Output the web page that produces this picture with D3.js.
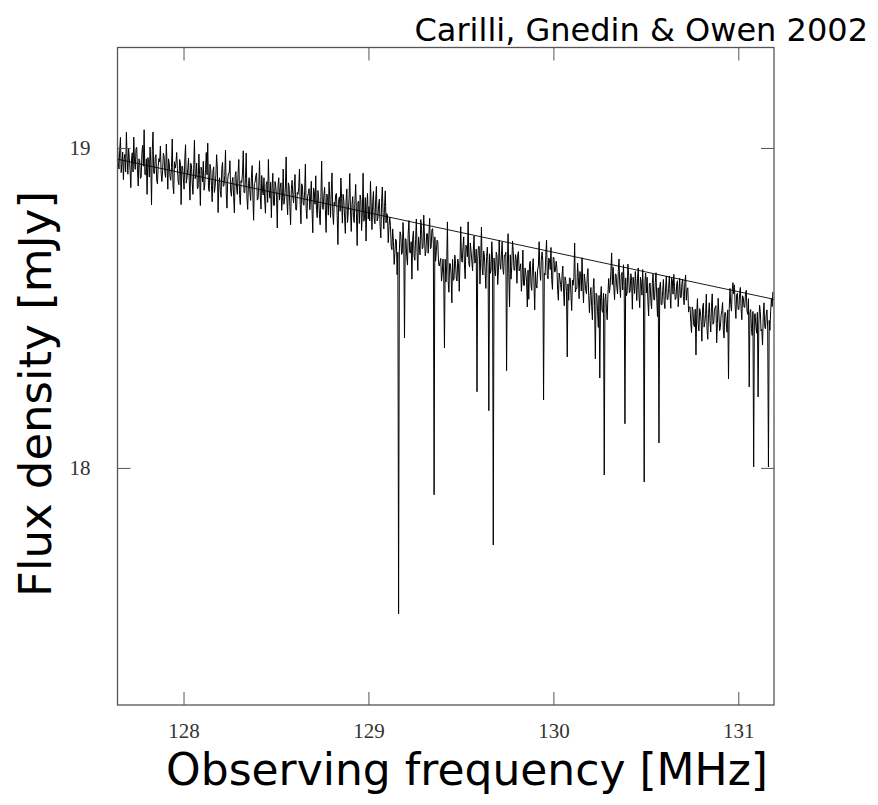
<!DOCTYPE html>
<html>
<head>
<meta charset="utf-8">
<script src="https://cdn.jsdelivr.net/npm/d3@7"></script>
<style>
  body { margin: 0; background: #fff; }
  svg { display: block; }
</style>
</head>
<body>
<svg width="878" height="805"></svg>
<script>
// channel grid of the spectrum (MHz)
var freqStart = 127.643, chanWidth = 0.004;

// flux density per channel (mJy)
var flux = [
 19.005,18.955,18.934,18.994,19.033,18.923,18.952,18.987,18.901,18.966,18.980,18.925,19.049,18.974,18.918,18.998,18.967,18.932,18.876,18.966,
 18.985,18.925,19.034,18.959,18.933,18.998,19.002,18.932,18.881,18.966,18.960,18.905,18.909,18.984,19.008,18.943,19.057,18.917,18.916,18.966,
 18.855,18.970,18.964,18.909,19.003,18.953,18.822,18.992,19.050,18.921,18.920,18.970,18.979,18.899,18.888,18.943,18.967,18.957,19.006,18.921,
 18.895,18.930,18.984,18.974,18.923,18.908,19.012,18.947,18.871,18.966,18.950,18.910,18.899,18.939,19.028,18.883,18.857,18.957,18.937,18.952,
 18.986,18.936,18.895,18.885,18.964,18.954,18.823,18.943,18.942,18.907,18.871,18.966,19.010,18.890,18.909,18.934,18.968,18.898,18.837,18.952,
 18.946,18.891,18.855,18.935,19.024,18.904,18.913,18.953,18.872,18.877,18.981,18.916,18.820,18.940,18.929,18.894,18.958,18.868,18.887,18.932,
 18.986,18.916,19.015,18.875,18.864,18.949,18.933,18.883,18.832,18.927,18.941,18.861,18.880,18.915,18.979,18.934,18.798,18.888,18.907,18.867,
 18.846,18.936,18.955,18.880,18.884,18.914,18.993,18.858,18.812,18.902,18.921,18.921,18.960,18.865,18.849,18.894,18.908,18.848,18.797,18.912,
 18.926,18.876,18.855,18.920,18.964,18.854,18.823,18.898,18.892,18.922,18.991,18.861,18.860,18.905,18.984,18.844,18.808,18.888,18.907,18.862,
 18.836,18.906,18.945,18.850,18.774,18.889,18.893,18.913,18.922,18.837,18.841,18.881,18.960,18.850,18.809,18.914,18.868,18.853,18.907,18.837,
 18.796,18.886,18.895,18.830,18.964,18.869,18.843,18.893,18.782,18.877,18.921,18.821,18.820,18.895,18.879,18.849,18.750,18.883,18.907,18.837,
 18.876,18.891,18.805,18.845,18.934,18.824,18.843,18.878,18.972,18.837,18.791,18.891,18.881,18.816,18.760,18.870,18.899,18.854,18.828,18.878,
 18.917,18.807,18.806,18.861,18.855,18.875,18.934,18.824,18.763,18.888,18.882,18.827,18.821,18.866,18.950,18.810,18.779,18.849,18.858,18.873,
 18.807,18.847,18.896,18.806,18.735,18.875,18.864,18.824,18.913,18.808,18.782,18.867,18.841,18.791,18.760,18.850,18.959,18.814,18.808,18.853,
 18.877,18.807,18.736,18.856,18.845,18.790,18.894,18.839,18.783,18.863,18.922,18.797,18.761,18.831,18.820,18.855,18.858,18.789,18.698,18.838,
 18.847,18.802,18.906,18.841,18.765,18.855,18.834,18.784,18.733,18.833,18.872,18.767,18.801,18.841,18.920,18.800,18.739,18.824,18.848,18.783,
 18.767,18.837,18.886,18.796,18.695,18.830,18.834,18.764,18.853,18.838,18.742,18.797,18.921,18.771,18.780,18.845,18.709,18.819,18.858,18.778,
 18.817,18.772,18.896,18.816,18.745,18.830,18.864,18.779,18.763,18.838,18.880,18.772,18.781,18.821,18.840,18.755,18.719,18.829,18.878,18.798,
 18.747,18.817,18.866,18.766,18.795,18.790,18.704,18.754,18.783,18.758,18.692,18.682,18.747,18.707,18.636,18.671,18.715,18.710,18.604,18.674,
 17.544,18.678,18.738,18.728,18.667,18.672,18.767,18.707,18.406,18.716,18.715,18.660,18.634,18.734,18.773,18.673,18.672,18.707,18.590,18.716,
 18.740,18.660,18.649,18.714,18.778,18.673,18.617,18.722,18.696,18.666,18.776,18.746,18.685,18.690,18.790,18.724,18.663,18.678,18.732,18.732,
 18.671,18.731,18.780,18.685,18.689,18.744,18.748,18.698,17.916,18.722,18.646,18.676,18.712,18.707,18.641,18.631,18.645,18.655,18.584,18.609,
 18.653,18.603,18.375,18.652,18.581,18.631,18.769,18.585,18.549,18.639,18.638,18.603,18.516,18.652,18.586,18.591,18.665,18.640,18.594,18.584,
 18.653,18.638,18.552,18.642,18.754,18.654,18.643,18.688,18.722,18.637,18.591,18.696,18.690,18.660,18.769,18.639,18.628,18.703,18.677,18.647,
 18.616,18.681,18.725,18.640,18.644,18.684,18.238,18.653,18.692,18.692,18.575,18.655,18.753,18.624,18.603,18.678,18.662,18.612,18.561,18.661,
 18.690,18.630,18.179,18.669,18.608,18.618,18.707,18.652,17.759,18.656,18.615,18.600,18.674,18.664,18.573,18.618,18.712,18.642,18.621,18.666,
 18.706,18.621,18.605,18.665,18.664,18.674,18.304,18.628,18.732,18.607,18.503,18.666,18.590,18.630,18.709,18.679,18.618,18.618,18.667,18.652,
 18.577,18.667,18.676,18.616,18.623,18.638,18.552,18.592,18.681,18.571,18.570,18.625,18.609,18.584,18.503,18.618,18.527,18.637,18.646,18.571,
 18.555,18.630,18.654,18.579,18.494,18.613,18.572,18.562,18.621,18.631,18.707,18.617,18.586,18.651,18.675,18.645,18.213,18.609,18.603,18.663,
 18.712,18.602,18.591,18.656,18.650,18.620,18.689,18.589,18.558,18.658,18.657,18.612,18.616,18.646,18.625,18.555,18.524,18.609,18.593,18.573,
 18.552,18.602,18.631,18.556,18.507,18.597,18.586,18.551,18.347,18.575,18.524,18.594,18.593,18.543,18.492,18.587,18.571,18.596,18.703,18.550,
 18.561,18.561,18.640,18.595,18.529,18.614,18.608,18.553,18.657,18.567,18.516,18.606,18.585,18.555,18.544,18.599,18.623,18.538,18.485,18.540,
 18.564,18.504,18.463,18.558,18.592,18.507,18.341,18.546,18.540,18.490,18.439,18.539,18.281,18.533,18.567,18.492,18.486,18.546,17.978,18.525,
 18.544,18.494,18.463,18.543,18.592,18.547,18.569,18.614,18.672,18.573,18.627,18.562,18.526,18.606,18.605,18.565,18.544,18.614,18.653,18.568,
 18.532,18.602,18.611,18.556,18.635,18.570,18.138,18.594,18.538,18.548,18.637,18.602,18.547,18.552,18.607,18.587,18.496,18.596,18.575,18.545,
 18.614,18.574,18.523,18.593,18.625,18.537,18.501,18.596,18.580,18.540,18.620,18.544,17.956,18.583,18.609,18.547,18.596,18.521,18.475,18.575,
 18.578,18.523,18.497,18.577,18.606,18.526,18.525,18.580,18.610,18.529,18.473,18.563,18.078,18.567,18.581,18.511,18.510,18.555,18.589,18.519,
 18.498,18.568,18.600,18.527,18.526,18.561,18.600,18.540,18.499,18.594,18.588,18.543,18.605,18.567,18.526,18.531,18.575,18.585,18.504,18.544,
 18.593,18.533,18.532,18.577,18.590,18.536,18.510,18.580,18.603,18.524,18.558,18.563,18.487,18.502,18.504,18.454,18.423,18.503,18.492,18.447,
 18.441,18.496,18.353,18.480,18.529,18.449,18.428,18.498,18.487,18.457,18.396,18.501,18.515,18.440,18.454,18.479,18.543,18.433,18.402,18.482,
 18.516,18.461,18.425,18.505,18.544,18.449,18.453,18.493,18.502,18.507,18.391,18.451,18.530,18.480,18.429,18.439,18.478,18.492,18.517,18.431,
 18.406,18.486,18.485,18.450,18.424,18.494,18.278,18.498,18.561,18.511,18.490,18.555,18.579,18.544,18.572,18.503,18.467,18.542,18.546,18.496,
 18.495,18.545,18.564,18.499,18.463,18.538,18.532,18.502,18.502,18.546,18.555,18.490,18.480,18.529,18.253,18.486,18.495,18.435,18.414,18.489,
 18.003,18.478,18.482,18.442,18.421,18.486,18.222,18.450,18.509,18.489,18.428,18.433,18.384,18.477,18.516,18.441,18.435,18.480,18.494,18.434,
 18.003,18.461,18.430,18.490,18.529,18.504,18.550
];

// straight continuum fit
var fitFreq = [127.643, 131.193];
var fitFlux = [18.965, 18.527];

var xTicks = [128, 129, 130, 131];
var yTicks = [18, 19];
var xDomain = [127.643, 131.193];
var yDomain = [17.259, 19.314];

var mLeft = 117.5, mRight = 774, mTop = 47.5, mBottom = 705;
var tickLen = 13;

var svg = d3.select("svg");

var xScale = d3.scaleLinear().domain(xDomain).range([mLeft, mRight]);
var yScale = d3.scaleLinear().domain(yDomain).range([mBottom, mTop]);

var spec = flux.map((v, i) => ({ f: freqStart + i * chanWidth, v: v }));

svg.append("clipPath").attr("id", "plotclip")
  .append("rect")
  .attr("x", mLeft).attr("y", mTop)
  .attr("width", mRight - mLeft).attr("height", mBottom - mTop);

var line = d3.line().x(d => xScale(d.f)).y(d => yScale(d.v));

svg.append("path")
  .datum(spec)
  .attr("clip-path", "url(#plotclip)")
  .attr("d", line)
  .style("fill", "none").style("stroke", "#000").style("stroke-width", 1);

svg.append("path")
  .datum(fitFreq.map((f, i) => ({ f: f, v: fitFlux[i] })))
  .attr("clip-path", "url(#plotclip)")
  .attr("d", line)
  .style("fill", "none").style("stroke", "#000").style("stroke-width", 0.9);

// axes, ticks pointing inwards on all four sides
var axisColor = "#555";
var fmt = d3.format("d");
var xBottom = d3.axisBottom(xScale).tickValues(xTicks).tickFormat(fmt).tickSizeInner(-tickLen).tickSizeOuter(0).tickPadding(18);
var xTop = d3.axisTop(xScale).tickValues(xTicks).tickSizeInner(-tickLen).tickSizeOuter(0).tickFormat("");
var yLeft = d3.axisLeft(yScale).tickValues(yTicks).tickFormat(fmt).tickSizeInner(-tickLen).tickSizeOuter(0).tickPadding(27);
var yRight = d3.axisRight(yScale).tickValues(yTicks).tickSizeInner(-tickLen).tickSizeOuter(0).tickFormat("");

svg.append("g").attr("transform", "translate(0," + mBottom + ")").call(xBottom);
svg.append("g").attr("transform", "translate(0," + mTop + ")").call(xTop);
svg.append("g").attr("transform", "translate(" + mLeft + ",0)").call(yLeft);
svg.append("g").attr("transform", "translate(" + mRight + ",0)").call(yRight);

svg.selectAll(".domain").style("display", "none");
svg.selectAll(".tick line").style("stroke", axisColor).style("stroke-width", 1);
svg.selectAll(".tick text")
  .style("font-family", "'Liberation Serif', serif")
  .style("font-size", "21px")
  .style("fill", "#333");

svg.append("rect")
  .attr("x", mLeft).attr("y", mTop)
  .attr("width", mRight - mLeft).attr("height", mBottom - mTop)
  .style("fill", "none").style("stroke", axisColor).style("stroke-width", 1.3);

// titles
var sans = "'DejaVu Sans', sans-serif";
svg.append("text")
  .attr("x", 868).attr("y", 41)
  .attr("text-anchor", "end")
  .style("font-family", sans).style("font-size", "32px")
  .text("Carilli, Gnedin & Owen 2002");

svg.append("text")
  .attr("x", 467).attr("y", 785)
  .attr("text-anchor", "middle")
  .style("font-family", sans).style("font-size", "44px")
  .text("Observing frequency [MHz]");

svg.append("text")
  .attr("transform", "translate(51,394) rotate(-90)")
  .attr("text-anchor", "middle")
  .style("font-family", sans).style("font-size", "45px")
  .text("Flux density [mJy]");
</script>
</body>
</html>
